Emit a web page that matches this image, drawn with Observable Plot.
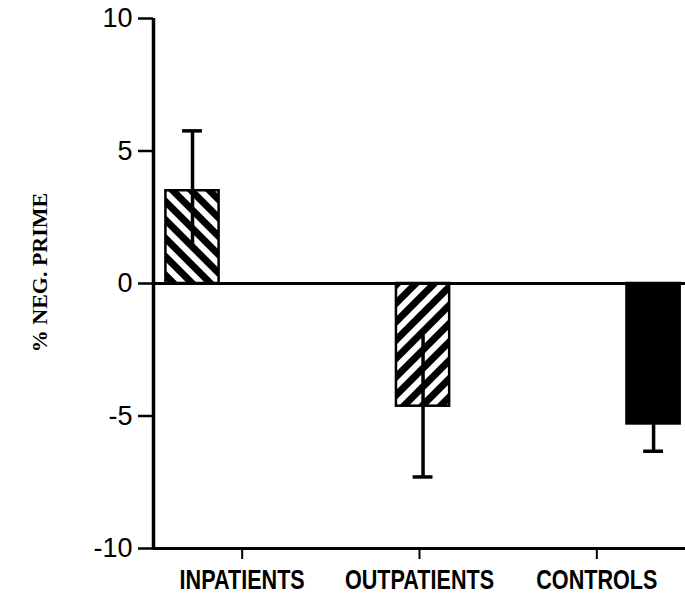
<!DOCTYPE html>
<html>
<head>
<meta charset="utf-8">
<script src="https://cdn.jsdelivr.net/npm/d3@7"></script>
<script src="https://cdn.jsdelivr.net/npm/@observablehq/plot@0.6"></script>
<style>
  html, body { margin: 0; padding: 0; background: #fff; }
  #chart svg { display: block; }
</style>
</head>
<body>
<div id="chart"></div>
<script>
// ---- data ----
const categories = ["INPATIENTS", "OUTPATIENTS", "CONTROLS"];
const means = [3.5, -4.63, -5.3];
const errors = [2.26, 2.67, 1.03];
const yTicks = [-10, -5, 0, 5, 10];
const yLabel = "% NEG. PRIME";

// ---- layout (not data) ----
const barCenter = i => 0.22 + 1.3 * i;   // bars sit offset from the category ticks
const halfBar = 0.15;
const halfCap = 0.056;
const fills = ["url(#hatchBack)", "url(#hatchFwd)", "black"];
const labelFont = "'Liberation Sans', Arial, sans-serif";

const data = categories.map((c, i) => ({
  cat: c, i, mean: means[i], err: errors[i],
  end: means[i] >= 0 ? means[i] + errors[i] : means[i] - errors[i]
}));

const plot = Plot.plot({
  width: 685,
  height: 593,
  marginLeft: 153,
  marginRight: 0,
  marginTop: 18,
  marginBottom: 45,
  x: {domain: [0, 3], axis: null},
  y: {domain: [-10, 10], axis: null},
  marks: [
    Plot.rect(data, {
      x1: d => barCenter(d.i) - halfBar,
      x2: d => barCenter(d.i) + halfBar,
      y1: 0, y2: "mean",
      fill: d => fills[d.i],
      stroke: "black", strokeWidth: 2.5
    }),
    Plot.ruleX(data, {
      x: d => barCenter(d.i),
      y1: d => d.mean - d.err, y2: d => d.mean + d.err,
      stroke: "black", strokeWidth: 3.5
    }),
    Plot.ruleY(data, {
      y: "end",
      x1: d => barCenter(d.i) - halfCap,
      x2: d => barCenter(d.i) + halfCap,
      stroke: "black", strokeWidth: 3.5
    }),
    Plot.ruleY([0], {stroke: "black", strokeWidth: 3}),
    Plot.ruleY([-10], {stroke: "black", strokeWidth: 3}),
    Plot.ruleX([0], {stroke: "black", strokeWidth: 3.5}),
    Plot.axisY({
      ticks: yTicks, tickSize: 15, tickPadding: 6, strokeWidth: 2.5,
      tickFormat: d => String(d), fontSize: 27, fontFamily: labelFont, color: "black"
    }),
    Plot.axisX({
      ticks: categories.map((c, i) => i + 0.5),
      tickFormat: d => categories[Math.floor(d)],
      tickSize: 11, tickPadding: 10, strokeWidth: 2,
      fontSize: 27, fontWeight: "bold", fontFamily: labelFont, color: "black"
    }),
    Plot.text([yLabel], {
      frameAnchor: "left", textAnchor: "middle", dx: -114, dy: -11, rotate: -90,
      fontSize: 22, fontWeight: "bold",
      fontFamily: "'Liberation Serif', 'Times New Roman', serif",
      fill: "black"
    })
  ]
});

// hatch pattern definitions
const svg = d3.select(plot);
const defs = svg.insert("defs", ":first-child");
[["hatchBack", -45], ["hatchFwd", 45]].forEach(([id, angle]) => {
  const p = defs.append("pattern")
    .attr("id", id)
    .attr("patternUnits", "userSpaceOnUse")
    .attr("width", 13).attr("height", 13)
    .attr("patternTransform", `rotate(${angle})`);
  p.append("rect").attr("width", 13).attr("height", 13).attr("fill", "black");
  p.append("rect").attr("x", 4).attr("width", 6).attr("height", 13).attr("fill", "white");
});

// condense the category labels horizontally (the reference uses a narrow face)
svg.selectAll("g[aria-label='x-axis tick label'] text").each(function () {
  const t = d3.select(this);
  t.attr("transform", (t.attr("transform") || "") + " scale(0.8,1)");
});

document.getElementById("chart").appendChild(plot);
</script>
</body>
</html>
